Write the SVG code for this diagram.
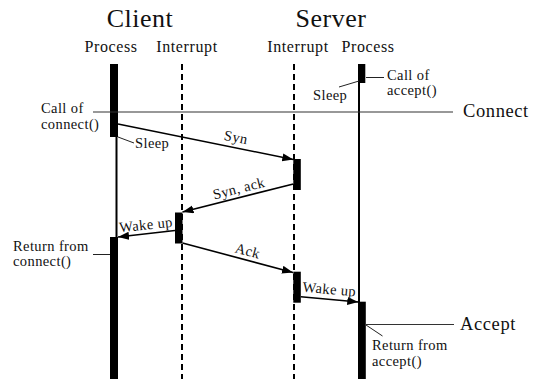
<svg xmlns="http://www.w3.org/2000/svg" width="536" height="379" viewBox="0 0 536 379" font-family="'Liberation Serif', 'DejaVu Serif', serif">
<defs>
<style>
text{fill:#111}
.title{font-size:26px;text-anchor:middle;letter-spacing:0.5px}
.col{font-size:16px;text-anchor:middle;letter-spacing:0.6px}
.lab{font-size:14.5px;letter-spacing:0.4px}
.msg{font-size:14.5px;text-anchor:middle;letter-spacing:0.4px}
.big{font-size:18.5px;letter-spacing:0.6px}
.life{stroke:#000;stroke-width:2;fill:none}
.dash{stroke:#000;stroke-width:2;stroke-dasharray:6 4;fill:none}
.bar{fill:#000}
.lead{stroke:#222;stroke-width:1;fill:none}
.arrow{stroke:#000;stroke-width:1.6;fill:none;marker-end:url(#ah)}
</style>
<marker id="ah" markerUnits="userSpaceOnUse" markerWidth="12" markerHeight="10" refX="11" refY="4" orient="auto">
<path d="M0,0 L11,4 L0,8 Z" fill="#000"/>
</marker>
</defs>
<rect width="536" height="379" fill="#fff"/>

<g id="headers" font-family="Liberation Serif">
<text class="title" x="140" y="27">Client</text>
<text class="title" x="331" y="27">Server</text>
<text class="col" x="111" y="52">Process</text>
<text class="col" x="187" y="52">Interrupt</text>
<text class="col" x="298" y="52">Interrupt</text>
<text class="col" x="368" y="52">Process</text>
</g>

<g id="client-process">
<line class="life" x1="116.5" y1="64" x2="116.5" y2="379"/>
<rect class="bar" x="110" y="64" width="8" height="73"/>
<rect class="bar" x="110" y="237" width="8" height="142"/>
</g>

<g id="client-interrupt">
<line class="dash" x1="182" y1="64" x2="182" y2="379"/>
<rect class="bar" x="175" y="212.5" width="7.5" height="31"/>
</g>

<g id="server-interrupt">
<line class="dash" x1="294" y1="64" x2="294" y2="379"/>
<rect class="bar" x="293.3" y="159" width="7.5" height="31"/>
<rect class="bar" x="293.3" y="271.7" width="7.5" height="31"/>
</g>

<g id="server-process">
<line class="life" x1="359" y1="64" x2="359" y2="379"/>
<rect class="bar" x="358.3" y="64" width="7" height="19"/>
<rect class="bar" x="358.3" y="301.7" width="7.5" height="77.3"/>
</g>

<g id="connect">
<line x1="93" y1="112" x2="453" y2="112" stroke="#333" stroke-width="1.2"/>
<text class="big" x="463" y="117">Connect</text>
</g>

<g id="accept">
<line x1="366" y1="324.5" x2="454" y2="324.5" stroke="#333" stroke-width="1.2"/>
<text class="big" x="460" y="329.5">Accept</text>
</g>

<g id="annotations">
<text class="lab" x="41" y="113">Call of</text>
<text class="lab" x="41" y="129">connect()</text>
<line class="lead" x1="118" y1="137" x2="134" y2="143"/>
<text class="lab" x="135" y="148">Sleep</text>
<text class="lab" x="13" y="251">Return from</text>
<text class="lab" x="13" y="266">connect()</text>
<line class="lead" x1="93" y1="254.5" x2="110" y2="254.5"/>
<line class="lead" x1="366" y1="77.5" x2="384" y2="77.5"/>
<text class="lab" x="387" y="80">Call of</text>
<text class="lab" x="387" y="95">accept()</text>
<line class="lead" x1="339" y1="87" x2="359" y2="81"/>
<text class="lab" x="313" y="100">Sleep</text>
<line class="lead" x1="366" y1="325" x2="382.5" y2="336"/>
<text class="lab" x="372" y="349.5">Return from</text>
<text class="lab" x="372" y="366">accept()</text>
</g>

<g id="connectors">
<line class="arrow" x1="118" y1="124" x2="293.3" y2="159.5"/>
<line class="arrow" x1="293.3" y1="184" x2="182.5" y2="212"/>
<line class="arrow" x1="175" y1="230.5" x2="118" y2="237"/>
<line class="arrow" x1="182.5" y1="243" x2="293" y2="272.5"/>
<line class="arrow" x1="300.8" y1="296.7" x2="358.3" y2="302"/>
<text class="msg" transform="translate(235,142) rotate(11.3)">Syn</text>
<text class="msg" transform="translate(240,193) rotate(-14)">Syn, ack</text>
<text class="msg" transform="translate(146.5,229.5) rotate(-6)">Wake up</text>
<text class="msg" transform="translate(246.5,255.5) rotate(15)">Ack</text>
<text class="msg" transform="translate(329,294) rotate(5)">Wake up</text>
</g>
</svg>
